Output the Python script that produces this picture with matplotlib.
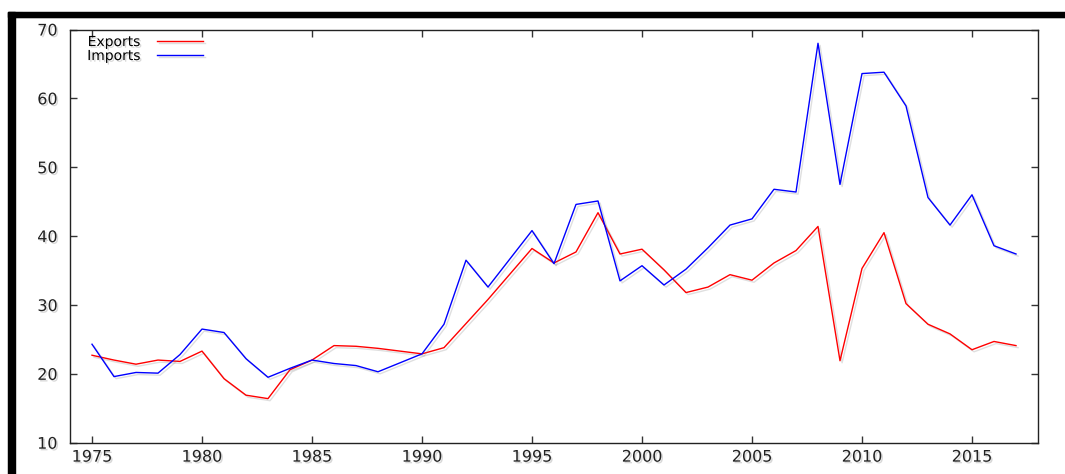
import matplotlib
matplotlib.use('Agg')
import matplotlib.pyplot as plt
import matplotlib.patheffects as pe
from matplotlib.patches import Rectangle

years = list(range(1975, 2018))

exports = [22.7, 22.0, 21.4, 22.0, 21.8, 23.3, 19.3, 16.9, 16.4, 20.6,
           22.0, 24.1, 24.0, 23.7, 23.3, 22.9, 23.8, 27.3, 30.8, 34.5,
           38.2, 36.1, 37.7, 43.4, 37.4, 38.1, 35.1, 31.8, 32.6, 34.4,
           33.6, 36.1, 37.9, 41.4, 21.9, 35.3, 40.5, 30.2, 27.2, 25.8,
           23.5, 24.7, 24.1]

imports = [24.3, 19.6, 20.2, 20.1, 22.8, 26.5, 26.0, 22.2, 19.5, 20.8,
           22.0, 21.5, 21.2, 20.3, 21.6, 22.9, 27.2, 36.5, 32.6, 36.7,
           40.8, 36.0, 44.6, 45.1, 33.5, 35.7, 32.9, 35.2, 38.3, 41.6,
           42.5, 46.8, 46.4, 68.0, 47.5, 63.6, 63.8, 58.9, 45.6, 41.6,
           46.0, 38.6, 37.4]

xticks = [1975, 1980, 1985, 1990, 1995, 2000, 2005, 2010, 2015]
yticks = [10, 20, 30, 40, 50, 60, 70]

line_fx = [pe.SimpleLineShadow(offset=(1.5, -1.5), shadow_color='gray', alpha=0.25),
           pe.Normal()]
text_fx = [pe.withSimplePatchShadow(offset=(1.2, -1.2), shadow_rgbFace='gray', alpha=0.3)]

fig = plt.figure(figsize=(10.65, 4.74), dpi=100)

# decorative frame (black bars with grey shadow)
fig.add_artist(Rectangle((8/1065, 0), 14/1065, 1 - 12/474, transform=fig.transFigure,
                         color='#e0e0e0', zorder=0))
fig.add_artist(Rectangle((8/1065, 1 - 24/474), 1, 12/474, transform=fig.transFigure,
                         color='#e0e0e0', zorder=0))
fig.add_artist(Rectangle((8/1065, 0), 7/1065, 1 - 12/474, transform=fig.transFigure,
                         color='black', zorder=1))
fig.add_artist(Rectangle((8/1065, 1 - 17/474), 1, 5/474, transform=fig.transFigure,
                         color='black', zorder=1))
fig.add_artist(Rectangle((15/1065, 0), 1, 1 - 19/474, transform=fig.transFigure,
                         color='white', zorder=0.5))

ax = fig.add_axes([70/1065, 31.3/474, 968/1065, 413.2/474])
ax.set_zorder(2)

ax.plot(years, exports, color='#ff0000', lw=1.0, label='Exports', path_effects=line_fx)
ax.plot(years, imports, color='#0000ff', lw=1.0, label='Imports', path_effects=line_fx)

ax.set_xlim(1974, 2018)
ax.set_ylim(10, 70)
ax.set_xticks(xticks)
ax.set_yticks(yticks)
ax.tick_params(direction='in', length=5, width=1, top=True, right=True,
               labelsize=11.5, colors='#333333', labelcolor='#222222', pad=5)
ax.tick_params(axis='y', pad=9)
for s in ax.spines.values():
    s.set_linewidth(1.0)
    s.set_color('#222222')
for lab in ax.get_xticklabels() + ax.get_yticklabels():
    lab.set_path_effects(text_fx)

leg = ax.legend(loc='upper left', frameon=False, markerfirst=False, fontsize=10,
                handlelength=3.3, handletextpad=1.2, borderaxespad=0.0,
                labelspacing=0.0, bbox_to_anchor=(0.012, 1.0))
for t in leg.get_texts():
    t.set_path_effects(text_fx)

fig.savefig('out.png', dpi=100)
